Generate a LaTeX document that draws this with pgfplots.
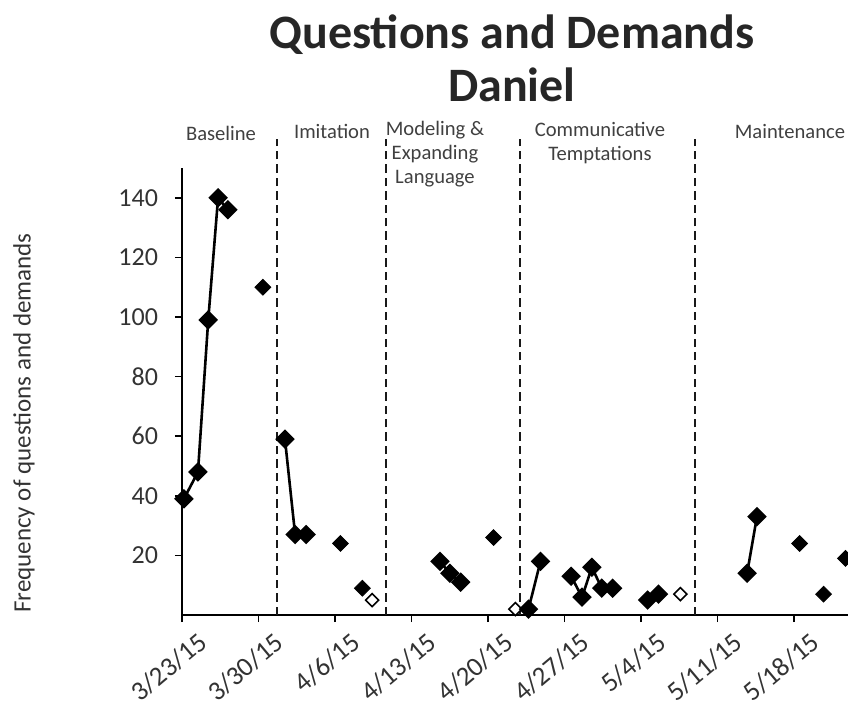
\documentclass[border=0pt]{standalone}
\usepackage{pgfplots}
\pgfplotsset{compat=1.18}
\usepackage{fontspec}
\setmainfont{Carlito}
\begin{document}
\begin{tikzpicture}
\useasboundingbox (-91pt,-52pt) rectangle (333pt,307.5pt);
\clip (-91pt,-52pt) rectangle (333pt,307.5pt);
\begin{axis}[
  at={(0,0)}, anchor=south west,
  scale only axis, width=333pt, height=223.5pt,
  xmin=0, xmax=60.93, ymin=0, ymax=150,
  axis lines=left, axis line style={line width=1pt, -},
  clip=false,
  xtick={0,7,14,21,28,35,42,49,56},
  xticklabels={3/23/15,3/30/15,4/6/15,4/13/15,4/20/15,4/27/15,5/4/15,5/11/15,5/18/15},
  ytick={20,40,60,80,100,120,140},
  tick align=outside, major tick length=3.5pt,
  tick style={line width=0.8pt, black},
  /pgf/number format/assume math mode=true,
  ticklabel style={text=black!80},
  xticklabel style={font=\fontsize{13.5}{15}\selectfont, rotate=40, anchor=north east, inner sep=1pt, yshift=-7pt, xshift=4pt},
  yticklabel style={font=\fontsize{13}{15}\selectfont, xshift=-5pt},
]
% phase change lines
\addplot[line width=1.2pt, dash pattern=on 4.2pt off 2.5pt, black!90] coordinates {(8.69,0)(8.69,159.8)};
\addplot[line width=1.2pt, dash pattern=on 4.2pt off 2.5pt, black!90] coordinates {(18.66,0)(18.66,159.8)};
\addplot[line width=1.2pt, dash pattern=on 4.2pt off 2.5pt, black!90] coordinates {(30.92,0)(30.92,159.8)};
\addplot[line width=1.2pt, dash pattern=on 4.2pt off 2.5pt, black!90] coordinates {(46.93,0)(46.93,159.8)};
% data
\pgfplotsset{seg/.style={line width=1.3pt, black, mark=square*, mark size=2.8pt, mark options={solid, fill=black, rotate=45}},
  iso/.style={only marks, black, mark=square*, mark size=2.8pt, mark options={fill=black, rotate=45}},
  opn/.style={only marks, black, mark=square*, mark size=2.3pt, mark options={fill=white, line width=0.8pt, rotate=45}}}
\addplot[seg] coordinates {(0.18,39)(1.46,48)(2.4,99)(3.3,140)(4.2,136)};
\addplot[iso] coordinates {(7.4,110)};
\addplot[seg] coordinates {(9.42,59)(10.35,27)(11.35,27)};
\addplot[iso] coordinates {(14.5,24)(16.5,9)};
\addplot[opn] coordinates {(17.4,5)};
\addplot[seg] coordinates {(23.6,18)(24.5,14)(25.5,11)};
\addplot[iso] coordinates {(28.5,26)};
\addplot[opn] coordinates {(30.5,2)};
\addplot[seg] coordinates {(31.7,2)(32.8,18)};
\addplot[seg] coordinates {(35.6,13)(36.6,6)(37.5,16)(38.4,9)(39.4,9)};
\addplot[seg] coordinates {(42.6,5)(43.6,7)};
\addplot[opn] coordinates {(45.6,7)};
\addplot[seg] coordinates {(51.7,14)(52.6,33)};
\addplot[iso] coordinates {(56.5,24)(58.7,7)(60.7,19)};
\end{axis}
% y label
\node[rotate=90, font=\fontsize{12.5}{14}\selectfont, text=black!80] at (-79pt,96pt) {Frequency of questions and demands};
% titles
\node[font=\fontsize{24}{27}\selectfont\bfseries, text=black!85] at (165pt,290pt) {Questions and Demands};
\node[font=\fontsize{24}{27}\selectfont\bfseries, text=black!85] at (165pt,265pt) {Daniel};
% phase labels
\begin{scope}[every node/.style={font=\fontsize{10.3}{12}\selectfont, text=black!75, align=center}]
\node at (19.5pt,241pt) {Baseline};
\node at (75pt,242pt) {Imitation};
\node at (126.5pt,230.5pt) {Modeling \&\\Expanding\\Language};
\node at (209pt,236pt) {Communicative\\Temptations};
\node at (304pt,242pt) {Maintenance};
\end{scope}
\end{tikzpicture}
\end{document}
